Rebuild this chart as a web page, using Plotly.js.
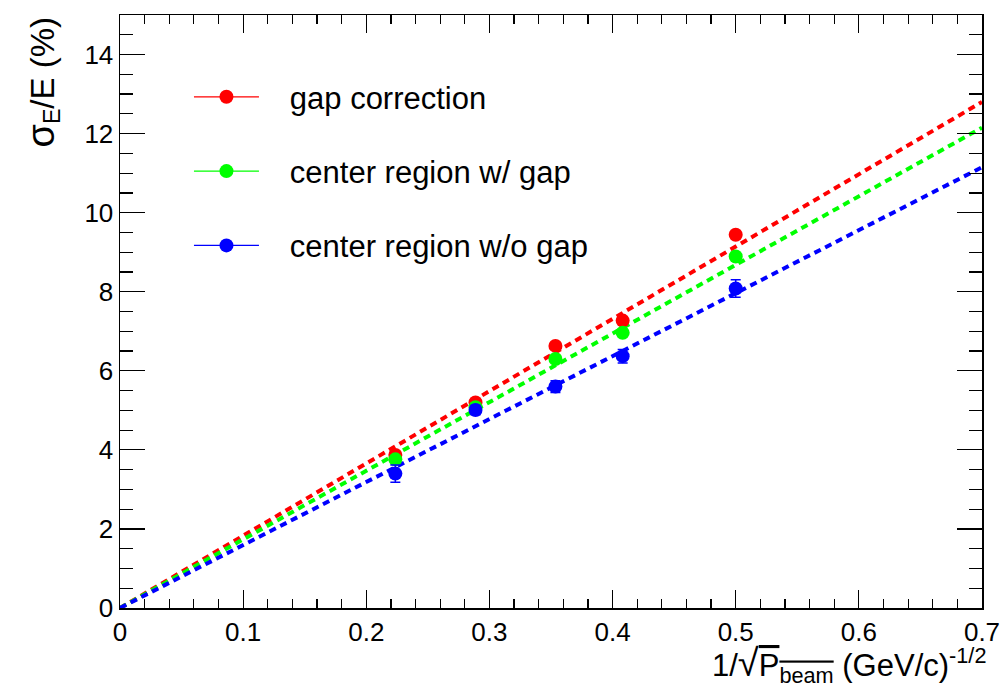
<!DOCTYPE html>
<html>
<head>
<meta charset="utf-8">
<script src="https://cdn.plot.ly/plotly-3.0.1.min.js"></script>
<style>html,body{margin:0;padding:0;background:#fff;}#chart{width:1004px;height:687px;}</style>
</head>
<body>
<div id="chart"></div>
<script>
// x = 1/sqrt(P_beam)
var xVals = [0.2236, 0.2887, 0.3536, 0.4082, 0.5];
var gapCorrection = [3.87, 5.20, 6.63, 7.27, 9.44];
var gapCorrectionErr = [0.08, 0.08, 0.08, 0.08, 0.08];
var centerWithGap = [3.76, 5.08, 6.30, 6.96, 8.89];
var centerWithGapErr = [0.08, 0.08, 0.08, 0.08, 0.08];
var centerNoGap = [3.40, 5.01, 5.60, 6.37, 8.08];
var centerNoGapErr = [0.22, 0.12, 0.15, 0.17, 0.22];
// linear fits through origin, read at the ends of the axis
var fitX = [0, 0.7];
var fitGapCorrection = [0, 12.8];
var fitCenterWithGap = [0, 12.15];
var fitCenterNoGap = [0, 11.15];

var xTicks = [0, 0.1, 0.2, 0.3, 0.4, 0.5, 0.6, 0.7];
var xTickLabels = ['0', '0.1', '0.2', '0.3', '0.4', '0.5', '0.6', '0.7'];
var yTicks = [0, 2, 4, 6, 8, 10, 12, 14];
var yTickLabels = ['0', '2', '4', '6', '8', '10', '12', '14'];

var seriesNames = ['gap correction', 'center region w/ gap', 'center region w/o gap'];
var colors = ['#ff0000', '#00ff00', '#0000ff'];

function interleave(arr) {
  var out = [];
  arr.forEach(function (v, i) { if (i > 0) out.push(null); out.push(v); });
  return out;
}

var FONT = 'Liberation Sans, Arial, Helvetica, sans-serif';
var sets = [
  [gapCorrection, gapCorrectionErr, fitGapCorrection],
  [centerWithGap, centerWithGapErr, fitCenterWithGap],
  [centerNoGap, centerNoGapErr, fitCenterNoGap]
];
var legendPad = ['\u00a0\u00a0\u00a0', '\u00a0\u00a0\u00a0', '\u00a0\u00a0\u00a0'];

var traces = [];
sets.forEach(function (s, i) {
  traces.push({
    x: fitX, y: s[2], type: 'scatter', mode: 'lines', showlegend: false,
    line: {color: colors[i], width: 4, dash: '7px,5px'}, hoverinfo: 'skip'
  });
});
sets.forEach(function (s, i) {
  traces.push({
    x: interleave(xVals), y: interleave(s[0]), type: 'scatter', mode: 'lines+markers',
    connectgaps: false, name: legendPad[i] + seriesNames[i], legendgroup: 'g' + i,
    line: {color: colors[i], width: 1.2},
    marker: {color: colors[i], size: 14, symbol: 'circle'},
    error_y: {type: 'data', array: interleave(s[1]), visible: true, color: colors[i], thickness: 1.5, width: 5}
  });
});

var layout = {
  width: 1004, height: 687,
  margin: {l: 120, r: 22, t: 15, b: 79},
  paper_bgcolor: '#fff', plot_bgcolor: '#fff',
  font: {family: FONT, color: '#000', size: 26},
  showlegend: true,
  legend: {
    x: 0.08, y: 0.907, xanchor: 'left', yanchor: 'top',
    font: {family: FONT, size: 31, color: '#000'},
    bgcolor: 'rgba(0,0,0,0)', borderwidth: 0,
    itemwidth: 65, tracegroupgap: 31, traceorder: 'grouped'
  },
  xaxis: {
    range: [0, 0.7], tickmode: 'array', tickvals: xTicks, ticktext: xTickLabels,
    showgrid: false, zeroline: false,
    showline: true, linecolor: '#000', linewidth: 1.5, mirror: 'ticks',
    ticks: 'inside', ticklen: 18, tickwidth: 1.2, tickcolor: '#000',
    tickfont: {family: FONT, size: 26, color: '#000'},
    minor: {dtick: 0.02, tick0: 0, ticks: 'inside', ticklen: 9, tickwidth: 1.2, tickcolor: '#000', showgrid: false}
  },
  yaxis: {
    range: [0, 15], tickmode: 'array', tickvals: yTicks, ticktext: yTickLabels,
    showgrid: false, zeroline: false,
    showline: true, linecolor: '#000', linewidth: 1.5, mirror: 'ticks',
    ticks: 'inside', ticklen: 25, tickwidth: 1.2, tickcolor: '#000',
    tickfont: {family: FONT, size: 26, color: '#000'},
    minor: {dtick: 0.5, tick0: 0, ticks: 'inside', ticklen: 13, tickwidth: 1.2, tickcolor: '#000', showgrid: false}
  },
  annotations: [
    {
      xref: 'paper', yref: 'paper', x: 1, y: 0, xanchor: 'right', yanchor: 'top',
      xshift: 6, yshift: -32, showarrow: false,
      text: '1/<span style="font-size:38px">√</span><span style="text-decoration:overline">P<sub>beam</sub></span> (GeV/c)<sup>-1/2</sup>',
      font: {family: FONT, size: 31, color: '#000'}
    },
    {
      xref: 'paper', yref: 'paper', x: 0, y: 1, xanchor: 'center', yanchor: 'top',
      xshift: -78, yshift: 0, showarrow: false, textangle: -90,
      text: '<span style="font-size:38px">σ</span><sub>E</sub>/E (%)',
      font: {family: FONT, size: 33, color: '#000'}
    }
  ]
};

Plotly.newPlot('chart', traces, layout, {displayModeBar: false, staticPlot: true});
</script>
</body>
</html>
